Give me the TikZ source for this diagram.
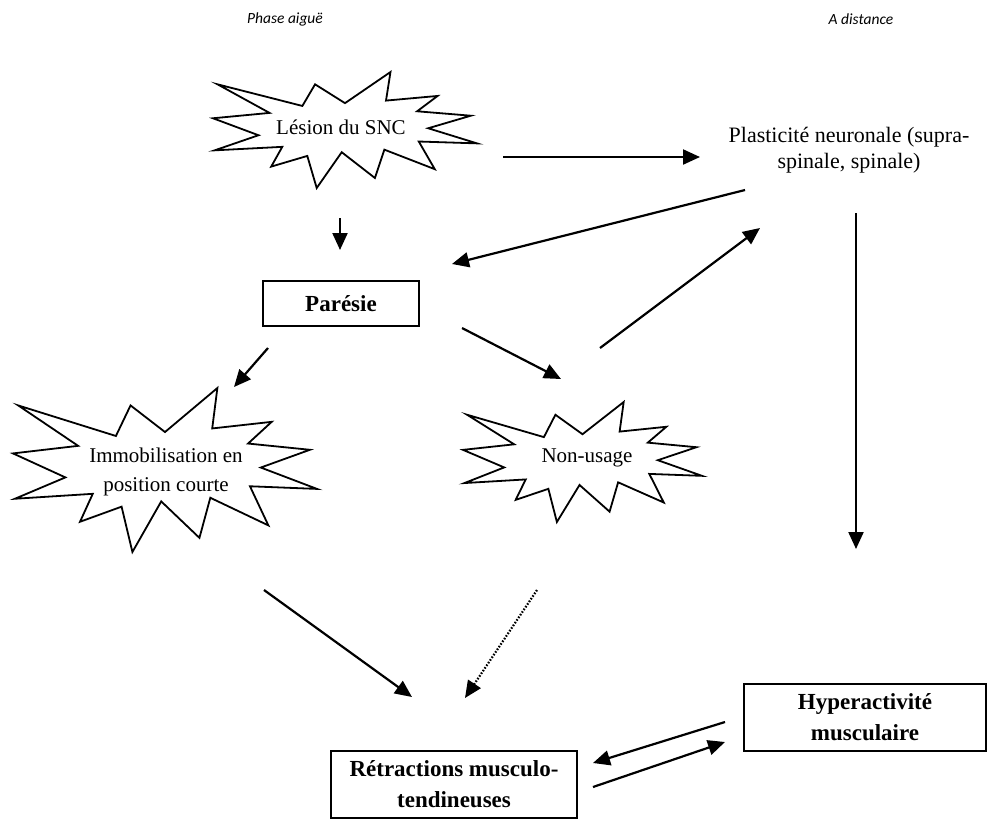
\documentclass[tikz,border=0pt]{standalone}
\usepackage{fontspec}
\setmainfont{Liberation Serif}
\newfontfamily\headfont{Carlito}
\usetikzlibrary{arrows.meta}
\newcommand\mystarburst[4]{%
  \begin{scope}[shift={(#1,#2)}, xscale={(#3-#1)/216}, yscale={(#4-#2)/216}]
    \draw[burstline] (108,58) -- (145.22,0) -- (141.55,53.25) -- (183.80,44.57) -- (167.02,73.15)
      -- (210.97,81.37) -- (176.07,104.75) -- (216,132.90) -- (168.37,129.42) -- (181.45,180.95)
      -- (140.20,144.57) -- (132.47,197.37) -- (105.32,149.35) -- (84.85,216) -- (77.15,156.27)
      -- (47.62,176.17) -- (56.67,139.37) -- (1.35,145.87) -- (37.22,117.75) -- (0,86.15)
      -- (46.27,76.17) -- (3.70,22.95) -- (73.12,63.20) -- (83.52,22.95) -- cycle;
  \end{scope}}
\begin{document}
\begin{tikzpicture}[x=1pt,y=-1pt,
  burstline/.style={draw=black, line width=1.8pt, line join=miter, fill=white},
  arr/.style={line width=2.2pt, -{Triangle[length=17pt,width=15pt]}},
  dotarr/.style={line width=2.2pt, dash pattern=on 1.6pt off 1.6pt, -{Triangle[length=17pt,width=15pt]}},
  boxnode/.style={draw=black, line width=1.8pt, inner sep=0pt, align=center,
    font=\bfseries\fontsize{23}{31}\selectfont},
  burstext/.style={align=center, inner sep=0pt, font=\fontsize{21}{29}\selectfont},
  headtext/.style={inner sep=0pt, font=\headfont\itshape\fontsize{15.5}{17}\selectfont}]
\useasboundingbox[fill=white] (0,0) rectangle (988,820);

% headings
\node[headtext] (ph) at (285,19) {Phase aiguë};
\node[headtext] (ad) at (861,19) {A distance};

% starbursts
\mystarburst{213}{72}{477}{188}
\node[burstext] (lesion) at (341,127) {Lésion du SNC};
\mystarburst{13}{388}{317}{552}
\node[burstext] (immob) at (166,472) {Immobilisation en\\position courte};
\mystarburst{463}{402}{702}{522}
\node[burstext] (nonusage) at (587,458) {Non-usage};

% text & boxes
\node[burstext, font=\fontsize{22}{26}\selectfont] (plast) at (849,150) {Plasticité neuronale (supra-\\spinale, spinale)};
\node[boxnode, minimum width=156pt, minimum height=45pt] (paresie) at (341,303.5) {Parésie};
\node[boxnode, minimum width=246pt, minimum height=67pt] (retr) at (454,784.5) {Rétractions musculo-\\tendineuses};
\node[boxnode, minimum width=242pt, minimum height=67pt] (hyper) at (865,717.5) {Hyperactivité\\musculaire};

% connector end points
\coordinate (les-s) at (503,157);   \coordinate (pla-w) at (700,157);
\coordinate (les-b) at (340,218);   \coordinate (par-t) at (340,250);
\coordinate (pla-sw) at (745,190);  \coordinate (par-ne) at (452,264);
\coordinate (non-ne) at (600,348);  \coordinate (pla-s) at (760,228);
\coordinate (par-sw) at (268,348);  \coordinate (imm-ne) at (234,387);
\coordinate (par-se) at (462,328);  \coordinate (non-nw) at (561,379);
\coordinate (pla-b) at (856,213);   \coordinate (hyp-t) at (856,549);
\coordinate (imm-se) at (264,590);  \coordinate (ret-nw) at (412,697);
\coordinate (non-sw) at (537,590);  \coordinate (ret-n) at (465,698);
\coordinate (hyp-w1) at (725,722);  \coordinate (ret-e1) at (593,763);
\coordinate (ret-e2) at (593,787);  \coordinate (hyp-w2) at (725,742);

\draw[arr] (les-s) -- (pla-w);
\draw[arr] (les-b) -- (par-t);
\draw[arr] (pla-sw) -- (par-ne);
\draw[arr] (non-ne) -- (pla-s);
\draw[arr] (par-sw) -- (imm-ne);
\draw[arr] (par-se) -- (non-nw);
\draw[arr] (pla-b) -- (hyp-t);
\draw[arr] (imm-se) -- (ret-nw);
\draw[dotarr] (non-sw) -- (ret-n);
\draw[arr] (hyp-w1) -- (ret-e1);
\draw[arr] (ret-e2) -- (hyp-w2);
\end{tikzpicture}
\end{document}
